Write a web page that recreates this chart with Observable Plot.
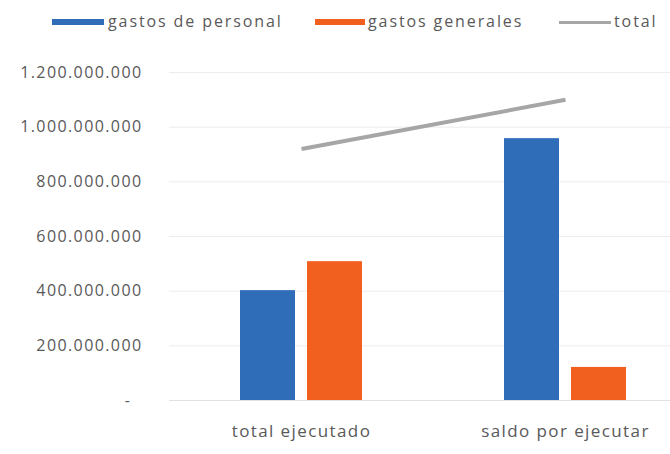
<!DOCTYPE html>
<html>
<head>
<meta charset="utf-8">
<script src="https://cdn.jsdelivr.net/npm/d3@7"></script>
<script src="https://cdn.jsdelivr.net/npm/@observablehq/plot@0.6"></script>
<style>
  html, body { margin: 0; padding: 0; background: #fff; }
  #wrap { position: relative; width: 670px; height: 454px; overflow: hidden; font-family: "Open Sans", sans-serif; }
  #legend { position: absolute; left: 0; top: 0; width: 670px; height: 40px; }
  .sw { position: absolute; }
  .lt { position: absolute; top: 10px; font-size: 16px; letter-spacing: 1.9px; color: #595959; line-height: 22px; white-space: nowrap; }
  #chart { position: absolute; left: 0; top: 40px; }
</style>
</head>
<body>
<div id="wrap">
  <div id="legend"></div>
  <div id="chart"></div>
</div>
<script>
const categories = ["total ejecutado", "saldo por ejecutar"];
const gastosPersonal = [402e6, 958e6];
const gastosGenerales = [508e6, 121e6];
const total = [920e6, 1100e6];
const yTicks = [0, 2e8, 4e8, 6e8, 8e8, 1e9, 1.2e9];
const seriesNames = ["gastos de personal", "gastos generales", "total"];
const seriesColors = ["#2F6DB8", "#F2601F", "#A6A6A6"];

const personalData = categories.map((c, i) => ({category: c, value: gastosPersonal[i]}));
const generalesData = categories.map((c, i) => ({category: c, value: gastosGenerales[i]}));
const totalData = categories.map((c, i) => ({category: c, value: total[i]}));

const esFormat = d3.formatLocale({decimal: ",", thousands: ".", grouping: [3], currency: ["", ""]}).format(",");
const tickFmt = d => d === 0 ? "-\u00a0\u00a0" : esFormat(d);

// Legend
const legend = document.getElementById("legend");
const legendItems = [
  {name: seriesNames[0], color: seriesColors[0], sx: 52, sw: 52, sh: 6, tx: 108},
  {name: seriesNames[1], color: seriesColors[1], sx: 315, sw: 50, sh: 6, tx: 368},
  {name: seriesNames[2], color: seriesColors[2], sx: 559, sw: 52, sh: 3, tx: 614}
];
for (const it of legendItems) {
  const s = document.createElement("div");
  s.className = "sw";
  s.style.left = it.sx + "px";
  s.style.width = it.sw + "px";
  s.style.height = it.sh + "px";
  s.style.top = (22 - it.sh / 2) + "px";
  s.style.background = it.color;
  legend.appendChild(s);
  const t = document.createElement("div");
  t.className = "lt";
  t.style.left = it.tx + "px";
  t.textContent = it.name;
  legend.appendChild(t);
}

const plot = Plot.plot({
  width: 670,
  height: 414,
  marginTop: 32,
  marginBottom: 54,
  marginLeft: 169,
  marginRight: 0,
  style: {fontFamily: "Open Sans, sans-serif", fontSize: "16px", color: "#595959", letterSpacing: "1.4px", overflow: "visible"},
  x: {domain: categories, range: [169, 697], padding: 0, label: null},
  y: {domain: [0, 1.2e9], label: null},
  marks: [
    Plot.gridY(yTicks, {stroke: "#ececec", strokeOpacity: 1, strokeWidth: 1}),
    Plot.ruleY([0], {stroke: "#e2e2e2", strokeWidth: 1}),
    Plot.barY(personalData, {x: "category", y: "value", fill: seriesColors[0], insetLeft: 71, insetRight: 138}),
    Plot.barY(generalesData, {x: "category", y: "value", fill: seriesColors[1], insetLeft: 138, insetRight: 71}),
    Plot.lineY(totalData, {x: "category", y: "value", stroke: seriesColors[2], strokeWidth: 4, strokeLinecap: "butt"}),
    Plot.axisY(yTicks, {tickSize: 0, tickPadding: 27, tickFormat: tickFmt, label: null, fill: "#595959"}),
    Plot.axisX({tickSize: 0, tickPadding: 24, label: null, fill: "#595959", fontSize: 17})
  ]
});
document.getElementById("chart").appendChild(plot);
</script>
</body>
</html>
